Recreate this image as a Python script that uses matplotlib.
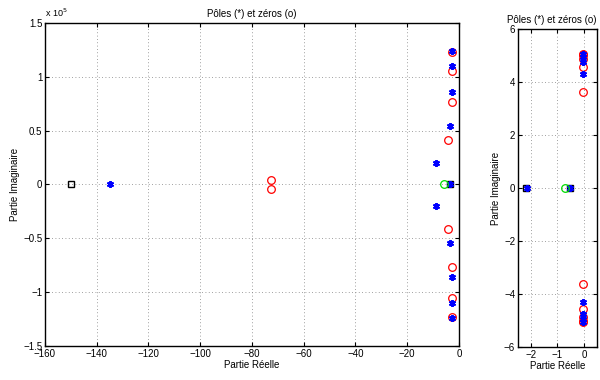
import matplotlib
matplotlib.use("Agg")
import matplotlib.pyplot as plt
from matplotlib.ticker import FuncFormatter

plt.rcParams['font.family'] = ['Liberation Sans', 'DejaVu Sans']
plt.rcParams['axes.unicode_minus'] = True

# ---------- Left plot data (imaginary part in raw units) ----------
poles_left_re = [-135, -9.0, -9.0, -3.6, -3.4, -3.4, -2.7, -2.7, -2.7, -2.7, -2.7, -2.7]
poles_left_im = [0, 0.197e5, -0.197e5, 0, 0.546e5, -0.546e5, 0.856e5, -0.856e5,
                 1.10e5, -1.10e5, 1.242e5, -1.242e5]
zeros_left_re = [-72.7, -72.7, -4.1, -4.1, -2.7, -2.7, -2.7, -2.7, -2.7, -2.7]
zeros_left_im = [4600, -4600, 0.41e5, -0.41e5, 0.769e5, -0.769e5, 1.051e5, -1.051e5,
                 1.233e5, -1.233e5]
green_left_re = [-5.9]
green_left_im = [0]
square_left_re = [-150, -3.6]
square_left_im = [0, 0]

# ---------- Right plot data ----------
poles_right_re = [-2.17, -0.54, -0.03, -0.03, -0.03, -0.03, -0.03, -0.03, -0.03, -0.03]
poles_right_im = [0, 0, 4.30, -4.30, 4.75, -4.75, 4.95, -4.95, 5.05, -5.05]
zeros_right_re = [-0.05, -0.05, -0.03, -0.03, -0.03, -0.03, -0.03, -0.03, -0.03, -0.03]
zeros_right_im = [3.63, -3.63, 4.58, -4.58, 4.88, -4.88, 5.0, -5.0, 5.07, -5.07]
green_right_re = [-0.73]
green_right_im = [0]
square_right_re = [-2.19, -0.54]
square_right_im = [0, 0]

left_xticks = [-160, -140, -120, -100, -80, -60, -40, -20, 0]
left_yticks = [-1.5e5, -1e5, -0.5e5, 0, 0.5e5, 1e5, 1.5e5]
right_xticks = [-2, -1, 0]
right_yticks = [-6, -4, -2, 0, 2, 4, 6]

title = "Pôles (*) et zéros (o)"
xlabel = "Partie Réelle"
ylabel = "Partie Imaginaire"

FS = 7
fig = plt.figure(figsize=(6, 3.8), dpi=100)
axL = fig.add_axes([0.075, 0.0895, 0.69, 0.85])
axR = fig.add_axes([0.8633, 0.0868, 0.1317, 0.837])

star = (6, 2, 0)

def draw(ax, zr, zi, sr, si, pr, pi, gr, gi, title_x=0.5):
    ax.plot(zr, zi, linestyle='none', marker='o', markersize=5.5, mfc='none',
            mec='#ff0000', mew=0.9, zorder=3)
    ax.plot(sr, si, linestyle='none', marker='s', markersize=5, mfc='none',
            mec='black', mew=1.0, zorder=3)
    ax.plot(pr, pi, linestyle='none', marker=star, markersize=5, mfc='#0000ff',
            mec='#0000ff', mew=1.4, zorder=4)
    ax.plot(gr, gi, linestyle='none', marker='o', markersize=5.5, mfc='none',
            mec='#00dd00', mew=0.9, zorder=5)
    ax.grid(True, linestyle=(0, (1, 3)), color='0.5', linewidth=0.6)
    ax.tick_params(direction='in', top=True, right=True, labelsize=FS,
                   length=3, width=0.8, pad=2)
    for s in ax.spines.values():
        s.set_linewidth(1.0)
    ax.set_title(title, fontsize=FS, pad=4, x=title_x)
    ax.set_xlabel(xlabel, fontsize=FS, labelpad=1)
    ax.set_ylabel(ylabel, fontsize=FS, labelpad=2)

draw(axL, zeros_left_re, zeros_left_im, square_left_re, square_left_im,
     poles_left_re, poles_left_im, green_left_re, green_left_im)
axL.set_xlim(-160, 0)
axL.set_ylim(-1.5e5, 1.5e5)
axL.set_xticks(left_xticks)
axL.set_yticks(left_yticks)
axL.yaxis.set_major_formatter(FuncFormatter(lambda v, p: f"{v/1e5:g}".replace('-', '\u2212')))
axL.xaxis.set_major_formatter(FuncFormatter(lambda v, p: f"{v:g}".replace('-', '\u2212')))
axL.text(0.0, 1.012, r"x 10$^5$", transform=axL.transAxes, fontsize=FS - 0.5,
         ha='left', va='bottom')

draw(axR, zeros_right_re, zeros_right_im, square_right_re, square_right_im,
     poles_right_re, poles_right_im, green_right_re, green_right_im, title_x=0.43)
axR.set_xlim(-2.5, 0.5)
axR.set_ylim(-6, 6)
axR.set_xticks(right_xticks)
axR.set_yticks(right_yticks)
axR.xaxis.set_major_formatter(FuncFormatter(lambda v, p: f"{v:g}".replace('-', '\u2212')))
axR.yaxis.set_major_formatter(FuncFormatter(lambda v, p: f"{v:g}".replace('-', '\u2212')))

fig.savefig("out.png", dpi=100)
